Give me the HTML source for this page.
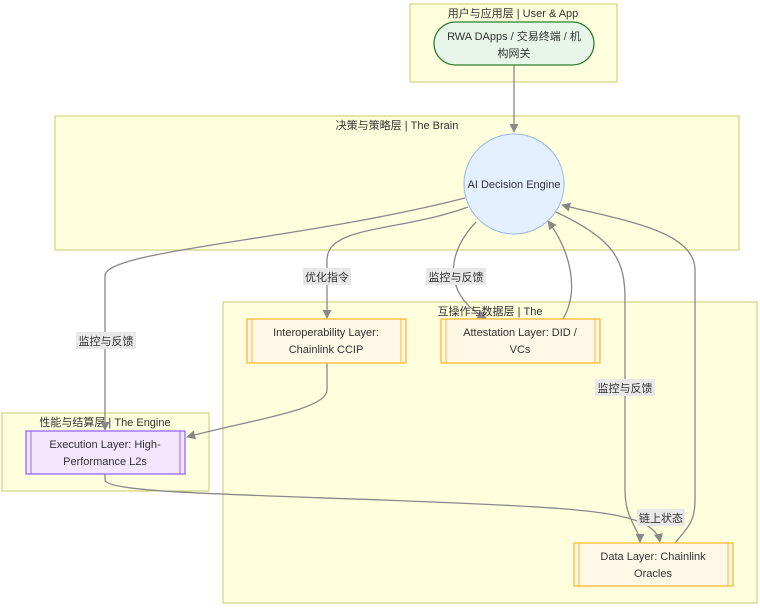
<!DOCTYPE html>
<html><head><meta charset="utf-8"><style>
body{margin:0;background:#fff;}
svg{display:block;font-family:"Liberation Sans","Noto Sans CJK SC",sans-serif;}
.cl{fill:#ffffde;stroke:#c8c86a;stroke-width:1}
.ct{font-size:11px;fill:#333;text-anchor:middle}
.nt{font-size:11px;fill:#333;text-anchor:middle}
.e{fill:none;stroke:#888;stroke-width:1.3}
.lb{fill:#e8e8e8}
</style></head><body>
<svg width="760" height="612" viewBox="0 0 760 612">
<defs><marker id="a" viewBox="0 0 10 10" refX="9" refY="5" markerWidth="7" markerHeight="7" orient="auto"><path d="M0,0L10,5L0,10z" fill="#888"/></marker></defs>
<rect class="cl" x="410" y="4" width="207" height="78"/>
<text class="ct" x="513" y="17">用户与应用层 | User &amp; App</text>
<rect class="cl" x="55" y="116" width="684" height="134"/>
<text class="ct" x="397" y="129">决策与策略层 | The Brain</text>
<rect class="cl" x="223" y="302" width="534" height="301"/>
<rect class="cl" x="2" y="413" width="207" height="78"/>
<text class="ct" x="105" y="426">性能与结算层 | The Engine</text>

<path class="e" d="M514,65 L514,132" marker-end="url(#a)"/>
<path class="e" d="M468,207 C400,232 327,225 327,260 L327,318" marker-end="url(#a)"/>
<path class="e" d="M327,363 L327,390 C327,410 250,420 187,437" marker-end="url(#a)"/>
<path class="e" d="M476,222 C440,260 450,300 486,318" marker-end="url(#a)"/>
<path class="e" d="M563,319 C580,290 570,250 548,221" marker-end="url(#a)"/>
<path class="e" d="M465,198 C300,240 110,250 105,275 L105,430" marker-end="url(#a)"/>
<path class="e" d="M105,474 L105,480 C105,495 300,495 500,505 C600,510 655,515 660,542" marker-end="url(#a)"/>
<path class="e" d="M556,212 C615,240 625,260 625,300 L625,490 C625,520 640,530 640,542" marker-end="url(#a)"/>
<path class="e" d="M675,543 C690,525 695,520 695,500 L695,270 C695,230 620,220 562,205" marker-end="url(#a)"/>

<text class="ct" x="490" y="315">互操作与数据层 | The</text>

<rect x="434" y="22" width="160" height="43" rx="21.5" fill="#e8f5e9" stroke="#2e7d32" stroke-width="1.3"/>
<text class="nt" x="514" y="40">RWA DApps / 交易终端 / 机</text>
<text class="nt" x="514" y="57">构网关</text>

<circle cx="514" cy="184" r="50" fill="#e3f0ff" stroke="#9ab8e6" stroke-width="1"/>
<text class="nt" x="514" y="188">AI Decision Engine</text>

<rect x="247" y="319" width="159" height="44" fill="#fff8e6" stroke="#ffb833" stroke-width="1.3"/>
<path d="M252,319V363M401,319V363" stroke="#ffb833"/>
<text class="nt" x="326" y="336">Interoperability Layer:</text>
<text class="nt" x="326" y="353">Chainlink CCIP</text>

<rect x="441" y="319" width="159" height="44" fill="#fff8e6" stroke="#ffb833" stroke-width="1.3"/>
<path d="M446,319V363M595,319V363" stroke="#ffb833"/>
<text class="nt" x="520" y="336">Attestation Layer: DID /</text>
<text class="nt" x="520" y="353">VCs</text>

<rect x="26" y="431" width="159" height="43" fill="#f3e6ff" stroke="#9966ff" stroke-width="1.3"/>
<path d="M31,431V474M180,431V474" stroke="#9966ff"/>
<text class="nt" x="105" y="448">Execution Layer: High-</text>
<text class="nt" x="105" y="465">Performance L2s</text>

<rect x="574" y="543" width="159" height="43" fill="#fff8e6" stroke="#ffb833" stroke-width="1.3"/>
<path d="M579,543V586M728,543V586" stroke="#ffb833"/>
<text class="nt" x="653" y="560">Data Layer: Chainlink</text>
<text class="nt" x="653" y="577">Oracles</text>

<rect class="lb" x="303" y="268" width="48" height="17"/><text class="nt" x="327" y="281">优化指令</text>
<rect class="lb" x="426" y="268" width="60" height="17"/><text class="nt" x="456" y="281">监控与反馈</text>
<rect class="lb" x="76" y="332" width="60" height="17"/><text class="nt" x="106" y="345">监控与反馈</text>
<rect class="lb" x="595" y="379" width="60" height="17"/><text class="nt" x="625" y="392">监控与反馈</text>
<rect class="lb" x="637" y="509" width="48" height="17"/><text class="nt" x="661" y="522">链上状态</text>
</svg>
</body></html>
